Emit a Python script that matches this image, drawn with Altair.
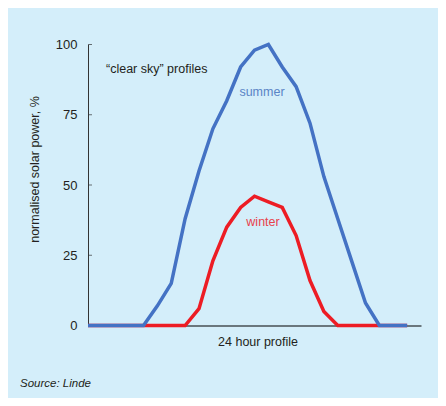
import altair as alt
import pandas as pd

hours = list(range(24))
summer = [0, 0, 0, 0, 0, 7, 15, 38, 55, 70, 80, 92, 98, 100, 92, 85, 72, 53, 38, 23, 8, 0, 0, 0]
winter = [0, 0, 0, 0, 0, 0, 0, 0, 6, 23, 35, 42, 46, 44, 42, 32, 16, 5, 0, 0, 0, 0, 0, 0]
y_ticks = [0, 25, 50, 75, 100]
inner_ticks = [25, 50, 75, 100]

FONT = "Liberation Sans"
TXT = "#231f20"
BLUE = "#4472C4"
RED = "#ED1C24"

df_s = pd.DataFrame({"hour": hours, "value": summer})
df_w = pd.DataFrame({"hour": hours, "value": winter})

xs = alt.Scale(domain=[0, 24], nice=False, zero=False)
ys = alt.Scale(domain=[0, 100], nice=False)

x_axis = alt.Axis(labels=False, ticks=False, title=None, grid=False,
                  domainColor="#000000", domainWidth=1)
y_axis = alt.Axis(values=y_ticks, ticks=False, grid=False, labelPadding=11,
                  labelFontSize=13, labelColor=TXT, labelFont=FONT,
                  domainColor="#333333", domainWidth=1,
                  title="normalised  solar power, %", titleFont=FONT,
                  titleFontSize=12.5, titleFontWeight="normal", titleColor=TXT,
                  titleX=-53.5, titleY=124.5, titleAlign="center",
                  titleBaseline="middle", titleAngle=-90)

winter_line = alt.Chart(df_w).mark_line(color=RED, strokeWidth=3.5).encode(
    x=alt.X("hour:Q", scale=xs, axis=x_axis),
    y=alt.Y("value:Q", scale=ys, axis=y_axis),
)
summer_line = alt.Chart(df_s).mark_line(color=BLUE, strokeWidth=3.5).encode(
    x=alt.X("hour:Q", scale=xs),
    y=alt.Y("value:Q", scale=ys),
)

ticks = alt.Chart(pd.DataFrame({"v": inner_ticks})).mark_tick(
    orient="horizontal", size=4, thickness=1, color="#333333"
).encode(x=alt.value(2), y=alt.Y("v:Q", scale=ys))


def label(text, x, y, color=TXT, size=12.5, align="center", style="normal"):
    return alt.Chart(pd.DataFrame({"t": [text]})).mark_text(
        align=align, baseline="middle", font=FONT, fontSize=size,
        color=color, fontStyle=style
    ).encode(x=alt.value(x), y=alt.value(y), text="t:N")


chart = alt.layer(
    winter_line,
    summer_line,
    ticks,
    label("\u201cclear sky\u201d profiles", 18, 24.5, align="left"),
    label("summer", 174, 47.5, color="#5a84c6"),
    label("winter", 175, 177.5, color="#e8424c"),
    label("24 hour profile", 170, 297.5),
    label("Source: Linde", -68, 339.5, size=11.5, align="left", style="italic"),
).properties(
    width=333, height=281,
    autosize=alt.AutoSizeParams(type="none"),
    padding={"left": 80, "top": 36.5, "right": 17, "bottom": 72.5},
    background="#d4eefa",
).configure_view(stroke=None)

chart.save("out.html", embed_options={"renderer": "svg", "actions": False})
